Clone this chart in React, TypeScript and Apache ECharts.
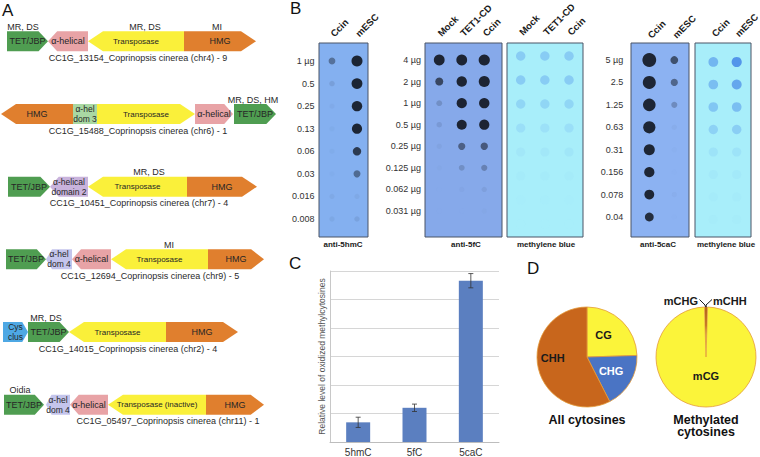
import React, { useEffect, useRef } from "react";
import * as echarts from "echarts";

const FONT = "'Liberation Sans', Arial, Helvetica, sans-serif";

// ---------------- Panel A: gene models ----------------
const geneRows = ["chr4", "chr6", "chr7", "chr9", "chr2", "chr11"];
// [row, start, end, direction (1 right, -1 left, 0 none), label, domain]
const geneDomains: [number, number, number, number, string, string][] = [
  [0, 7, 48, 1, "TET/JBP", "tet"],
  [0, 48, 88, -1, "α-helical", "ahel"],
  [0, 88, 184, -1, "Transposase", "trans"],
  [0, 184, 256, 1, "HMG", "hmg"],
  [1, 1, 73, -1, "HMG", "hmg"],
  [1, 73, 97, 0, "α-hel\ndom 3", "dom3"],
  [1, 97, 195, 1, "Transposase", "trans"],
  [1, 195, 233, 1, "α-helical", "ahel"],
  [1, 234, 276, 1, "TET/JBP", "tet"],
  [2, 8, 50, 1, "TET/JBP", "tet"],
  [2, 50, 88, -1, "α-helical\ndomain 2", "dom2"],
  [2, 88, 187, -1, "Transposase", "trans"],
  [2, 187, 257, 1, "HMG", "hmg"],
  [3, 6, 46, 1, "TET/JBP", "tet"],
  [3, 46, 72, -1, "α-hel\ndom 4", "dom4"],
  [3, 72, 111, -1, "α-helical", "ahel"],
  [3, 111, 208, -1, "Transposase", "trans"],
  [3, 208, 264, 1, "HMG", "hmg"],
  [4, 3, 28, 1, "Cys\nclus", "cys"],
  [4, 28, 69, 1, "TET/JBP", "tet"],
  [4, 69, 166, -1, "Transposase", "trans"],
  [4, 166, 238, 1, "HMG", "hmg"],
  [5, 4, 44, 1, "TET/JBP", "tet"],
  [5, 46, 70, -1, "α-hel\ndom 4", "dom4"],
  [5, 70, 108, -1, "α-helical", "ahel"],
  [5, 108, 206, -1, "Transposase (inactive)", "trans"],
  [5, 206, 264, 1, "HMG", "hmg"],
];
// [row, centre, text]
const geneNotes: [number, number, string][] = [
  [0, 23, "MR, DS"],
  [0, 145, "MR, DS"],
  [0, 217, "MI"],
  [1, 253, "MR, DS, HM"],
  [2, 149, "MR, DS"],
  [3, 169, "MI"],
  [4, 46, "MR, DS"],
  [5, 20, "Oidia"],
];
const geneCaptions: [number, number, string][] = [
  [0, 138, "CC1G_13154_Coprinopsis cinerea (chr4) - 9"],
  [1, 138, "CC1G_15488_Coprinopsis cinerea (chr6) - 1"],
  [2, 139, "CC1G_10451_Coprinopsis cinerea (chr7) - 4"],
  [3, 150, "CC1G_12694_Coprinopsis cinerea (chr9) - 5"],
  [4, 128, "CC1G_14015_Coprinopsis cinerea (chr2) - 4"],
  [5, 168, "CC1G_05497_Coprinopsis cinerea (chr11) - 1"],
];

// ---------------- Panel B: dot blots (signal per spot) ----------------
const blot1Cols = ["Ccin", "mESC"];
const blot1Rows = ["1 µg", "0.5", "0.25", "0.13", "0.06", "0.03", "0.016", "0.008"];
const blot1Ccin = [0.45, 0.12, 0.04, 0.03, 0.03, 0.02, 0.05, 0.06];
const blot1mESC = [1.5, 1.45, 1.35, 1.3, 0.85, 0.5, 0.05, 0.1];

const blot2Cols = ["Mock", "TET1-CD", "Ccin"];
const blot2Rows = ["4 µg", "2 µg", "1 µg", "0.5 µg", "0.25 µg", "0.125 µg", "0.062 µg", "0.031 µg"];
const blot2Mock = [1.45, 0.75, 0.2, 0.12, 0.05, 0.02, 0, 0];
const blot2Tet = [1.45, 1.35, 1.3, 1.25, 0.55, 0.2, 0.03, 0];
const blot2Ccin = [1.55, 1.5, 1.35, 1.3, 0.6, 0.3, 0.08, 0.02];

const blot3Mock = [0.3, 0.3, 0.22, 0.13, 0.06, 0.03, 0.015, 0.01];
const blot3Tet = [0.3, 0.3, 0.22, 0.12, 0.06, 0.03, 0.015, 0.01];
const blot3Ccin = [0.3, 0.3, 0.22, 0.13, 0.07, 0.03, 0.015, 0.01];

const blot4Cols = ["Ccin", "mESC"];
const blot4Rows = ["5 µg", "2.5", "1.25", "0.63", "0.31", "0.156", "0.078", "0.04"];
const blot4Ccin = [2.2, 2.0, 1.9, 1.8, 1.5, 1.3, 1.2, 0.95];
const blot4mESC = [0.7, 0.55, 0.28, 0.04, 0.02, 0.01, 0.03, 0.01];

const blot5Ccin = [0.5, 0.42, 0.36, 0.25, 0.1, 0.05, 0.03, 0.02];
const blot5mESC = [0.78, 0.62, 0.42, 0.28, 0.1, 0.05, 0.03, 0.02];

const blotCaptions = ["anti-5hmC", "anti-5fC", "methylene blue", "anti-5caC", "methylene blue"];

// ---------------- Panel C ----------------
const oxCats = ["5hmC", "5fC", "5caC"];
const oxValues = [0.69, 1.2, 5.66];
const oxErrors = [0.18, 0.13, 0.25];

// ---------------- Panel D ----------------
const allCytLabels = ["CG", "CHG", "CHH"];
const allCytValues = [24.5, 18, 57.5];
const methLabels = ["mCHG", "mCHH", "mCG"];
const methValues = [0.5, 0.5, 99];

// ---------------- styles / layout ----------------
const domainStyle: Record<string, { fill: string; size: number }> = {
  tet: { fill: "#4f9d51", size: 9 },
  ahel: { fill: "#e8a3a6", size: 9 },
  trans: { fill: "#faf03a", size: 8 },
  hmg: { fill: "#e07f2e", size: 9 },
  dom3: { fill: "#a9d8a3", size: 8.5 },
  dom2: { fill: "#c9b3dc", size: 8.5 },
  dom4: { fill: "#c4c5ec", size: 8.5 },
  cys: { fill: "#4ea8e4", size: 8.5 },
};

const blotCols = [blot1Cols, blot2Cols, blot2Cols, blot4Cols, blot4Cols];
const blotRows = [blot1Rows, blot2Rows, blot2Rows, blot4Rows, blot4Rows];
const blotLanes = [
  [blot1Ccin, blot1mESC],
  [blot2Mock, blot2Tet, blot2Ccin],
  [blot3Mock, blot3Tet, blot3Ccin],
  [blot4Ccin, blot4mESC],
  [blot5Ccin, blot5mESC],
];
const blotLayout = [
  { m: [319, 43, 49, 194], g: { left: 319.5, top: 49.7, width: 50, height: 180.6 }, rowMargin: 5, headY: 35, bg: "#84b0f0", mb: false, rows: true, capX: 343 },
  { m: [425, 43, 77, 194], g: { left: 428, top: 49.2, width: 67.5, height: 172.6 }, rowMargin: 7, headY: 34.5, bg: "#86a9ea", mb: false, rows: true, capX: 466 },
  { m: [507, 43, 76, 194], g: { left: 508.6, top: 44, width: 72.5, height: 192 }, rowMargin: 5, headY: 33.5, bg: "#a8eefa", mb: true, rows: false, capX: 546 },
  { m: [631, 43, 58, 194], g: { left: 636.8, top: 48.8, width: 50, height: 179.4 }, rowMargin: 13.5, headY: 36.5, bg: "#8cb2f2", mb: false, rows: true, capX: 658 },
  { m: [695, 43, 56, 194], g: { left: 701.6, top: 50.75, width: 46.8, height: 180 }, rowMargin: 5, headY: 35, bg: "#a8eefa", mb: true, rows: false, capX: 726 },
];

function mix(c1: string, c2: string, t: number) {
  const p = (c: string) => [1, 3, 5].map((i) => parseInt(c.slice(i, i + 2), 16));
  const a = p(c1);
  const b = p(c2);
  const r = a.map((v, i) => Math.round(v + (b[i] - v) * t));
  return `rgb(${r[0]},${r[1]},${r[2]})`;
}

export default function App() {
  const ref = useRef<HTMLDivElement>(null);

  useEffect(() => {
    document.body.style.margin = "0";
    if (!ref.current) return;
    const chart = echarts.init(ref.current, undefined, { renderer: "svg" });

    const grids: any[] = [];
    const xAxes: any[] = [];
    const yAxes: any[] = [];
    const series: any[] = [];
    const graphics: any[] = [];

    // ---- grid 0: gene models
    grids.push({ left: 0, top: 5, width: 280, height: 436 });
    xAxes.push({ gridIndex: 0, type: "value", min: 0, max: 280, show: false });
    yAxes.push({ gridIndex: 0, type: "category", data: geneRows, inverse: true, show: false });

    series.push({
      type: "custom",
      xAxisIndex: 0,
      yAxisIndex: 0,
      silent: true,
      data: geneDomains.map((d) => [d[0], d[1], d[2], d[3]]),
      encode: { x: [1, 2], y: 0 },
      renderItem: (params: any, api: any) => {
        const d = geneDomains[params.dataIndex];
        const st = domainStyle[d[5]];
        const a = api.coord([api.value(1), api.value(0)]);
        const b = api.coord([api.value(2), api.value(0)]);
        const x1 = a[0];
        const x2 = b[0];
        const y = a[1];
        const h = 20;
        const dir = api.value(3);
        const tip = Math.min(15, (x2 - x1) * 0.23);
        let pts: number[][];
        if (dir > 0)
          pts = [[x1, y - h / 2], [x2 - tip, y - h / 2], [x2, y], [x2 - tip, y + h / 2], [x1, y + h / 2]];
        else if (dir < 0)
          pts = [[x1, y], [x1 + tip, y - h / 2], [x2, y - h / 2], [x2, y + h / 2], [x1 + tip, y + h / 2]];
        else pts = [[x1, y - h / 2], [x2, y - h / 2], [x2, y + h / 2], [x1, y + h / 2]];
        return {
          type: "group",
          children: [
            { type: "polygon", shape: { points: pts }, style: { fill: st.fill } },
            {
              type: "text",
              x: (x1 + x2) / 2,
              y,
              style: {
                text: d[4],
                fill: "#262626",
                fontSize: st.size,
                lineHeight: st.size + 1.5,
                fontFamily: FONT,
                align: "center",
                verticalAlign: "middle",
              },
            },
          ],
        };
      },
    });

    const textSeries = (rows: [number, number, string][], dy: number, size: number) => ({
      type: "custom",
      xAxisIndex: 0,
      yAxisIndex: 0,
      silent: true,
      data: rows.map((r) => [r[1], r[0]]),
      encode: { x: 0, y: 1 },
      renderItem: (params: any, api: any) => {
        const p = api.coord([api.value(0), api.value(1)]);
        return {
          type: "text",
          x: p[0],
          y: p[1] + dy,
          style: {
            text: rows[params.dataIndex][2],
            fill: "#2a2a2a",
            fontSize: size,
            fontFamily: FONT,
            align: "center",
            verticalAlign: "middle",
          },
        };
      },
    });
    series.push(textSeries(geneNotes, -14.5, 9));
    series.push(textSeries(geneCaptions, 16.5, 9));

    // ---- grids 1-5: dot blots
    blotLayout.forEach((L, bi) => {
      const gi = bi + 1;
      grids.push({ ...L.g });
      xAxes.push({
        gridIndex: gi,
        type: "category",
        data: blotCols[bi],
        show: false,
      });
      yAxes.push({
        gridIndex: gi,
        type: "category",
        inverse: true,
        data: blotRows[bi],
        axisLine: { show: false },
        axisTick: { show: false },
        splitLine: { show: false },
        axisLabel: {
          show: L.rows,
          interval: 0,
          margin: L.rowMargin,
          fontSize: 9,
          color: "#333",
          fontFamily: FONT,
        },
      });
      const data: any[] = [];
      blotLanes[bi].forEach((lane, ci) => {
        lane.forEach((s, ri) => {
          const t = Math.min(1, s);
          const color = L.mb ? mix(L.bg, "#1f5fe0", t) : mix(L.bg, "#030305", t);
          const size = L.mb ? 9 + 1.5 * t : 5 + 4 * s;
          data.push({ value: [ci, ri, s], symbolSize: size, itemStyle: { color } });
        });
      });
      series.push({
        type: "scatter",
        xAxisIndex: gi,
        yAxisIndex: gi,
        silent: true,
        symbol: "circle",
        data,
      });
      // lane headers (rotated 45 deg), placed at each lane's x through the axis
      const cols = blotCols[bi];
      const headGap = L.g.top - L.headY;
      series.push({
        type: "custom",
        xAxisIndex: gi,
        yAxisIndex: gi,
        silent: true,
        data: cols.map((c, ci) => [ci, 0]),
        renderItem: (params: any, api: any) => {
          const p = api.coord([api.value(0), 0]);
          const top = params.coordSys.y;
          return {
            type: "group",
            x: p[0],
            y: top - headGap,
            rotation: Math.PI / 4,
            children: [
              {
                type: "text",
                x: 0,
                y: 0,
                style: {
                  text: cols[params.dataIndex],
                  fontSize: 9.5,
                  fontWeight: "bold",
                  fill: "#1a1a1a",
                  fontFamily: FONT,
                  align: "left",
                  verticalAlign: "middle",
                },
              },
            ],
          };
        },
      });
      graphics.push({
        type: "rect",
        shape: { x: L.m[0], y: L.m[1], width: L.m[2], height: L.m[3] },
        style: { fill: L.bg, stroke: "#4a5566", lineWidth: 1 },
        z: 0,
      });
      graphics.push({
        type: "text",
        x: L.capX,
        y: 244,
        style: {
          text: blotCaptions[bi],
          fontSize: 8,
          fontWeight: "bold",
          fill: "#1a1a1a",
          fontFamily: FONT,
          align: "center",
          verticalAlign: "middle",
        },
      });
    });

    // ---- grid 6: bar chart
    grids.push({ left: 330, top: 271, width: 169, height: 171 });
    xAxes.push({
      gridIndex: 6,
      type: "category",
      data: oxCats,
      axisLine: { lineStyle: { color: "#bdbdbd" } },
      axisTick: { show: false },
      axisLabel: { fontSize: 10, color: "#333", margin: 5, fontFamily: FONT },
    });
    yAxes.push({
      gridIndex: 6,
      type: "value",
      min: 0,
      max: 6,
      interval: 1,
      name: "Relative level of oxidized methylcytosines",
      nameLocation: "middle",
      nameGap: 4,
      nameTextStyle: { fontSize: 8.5, color: "#555", fontFamily: FONT },
      axisLine: { show: true, lineStyle: { color: "#c8c8c8" } },
      axisTick: { show: false },
      axisLabel: { show: false },
      splitLine: { lineStyle: { color: "#d6d6d6" } },
    });
    series.push({
      type: "bar",
      xAxisIndex: 6,
      yAxisIndex: 6,
      silent: true,
      data: oxValues,
      barWidth: 24,
      itemStyle: { color: "#5b7fc0" },
    });
    series.push({
      type: "custom",
      xAxisIndex: 6,
      yAxisIndex: 6,
      silent: true,
      z: 5,
      data: oxCats.map((c, i) => [i, oxValues[i] - oxErrors[i], oxValues[i] + oxErrors[i]]),
      renderItem: (params: any, api: any) => {
        const lo = api.coord([api.value(0), api.value(1)]);
        const hi = api.coord([api.value(0), api.value(2)]);
        const w = 2.5;
        const st = { stroke: "#333", lineWidth: 0.8 };
        return {
          type: "group",
          children: [
            { type: "line", shape: { x1: lo[0], y1: lo[1], x2: hi[0], y2: hi[1] }, style: st },
            { type: "line", shape: { x1: lo[0] - w, y1: lo[1], x2: lo[0] + w, y2: lo[1] }, style: st },
            { type: "line", shape: { x1: hi[0] - w, y1: hi[1], x2: hi[0] + w, y2: hi[1] }, style: st },
          ],
        };
      },
    });

    // ---- pies
    const pie1Colors = ["#fbf43a", "#4a74c4", "#c8661c"];
    const pie2Colors = ["#b5651d", "#b5651d", "#fbf43a"];
    series.push({
      type: "pie",
      center: [587, 357],
      radius: 50,
      startAngle: 90,
      clockwise: true,
      avoidLabelOverlap: false,
      silent: true,
      itemStyle: { borderColor: "#e39a3a", borderWidth: 0.8 },
      label: { show: true, position: "inner", formatter: "{b}", fontSize: 11, fontWeight: "bold", fontFamily: FONT },
      labelLine: { show: false },
      data: allCytLabels.map((n, i) => ({
        name: n,
        value: allCytValues[i],
        itemStyle: { color: pie1Colors[i] },
        label: { color: i === 1 ? "#ffffff" : "#1a1a1a" },
      })),
      labelLayout: (p: any) => (p.dataIndex === 2 ? { dx: -7, dy: -6 } : p.dataIndex === 0 ? { dx: -3, dy: -2 } : {}),
    });
    series.push({
      type: "pie",
      center: [706, 357],
      radius: 50,
      startAngle: 91.8,
      clockwise: true,
      avoidLabelOverlap: false,
      silent: true,
      itemStyle: { borderColor: "#e39a3a", borderWidth: 0.6 },
      label: { show: true, formatter: "{b}", fontSize: 11, fontWeight: "bold", color: "#1a1a1a", fontFamily: FONT },
      labelLine: { show: true, lineStyle: { color: "#1a1a1a", width: 1 } },
      data: methLabels.map((n, i) => ({
        name: n,
        value: methValues[i],
        itemStyle: { color: pie2Colors[i], borderWidth: i === 2 ? 0.8 : 0 },
        label: { position: i === 2 ? "inner" : "outside" },
        labelLine: { show: i !== 2 },
      })),
      labelLayout: (p: any) => {
        if (p.dataIndex === 0)
          return { x: 698, y: 300.5, align: "right", verticalAlign: "middle", labelLinePoints: [[705.6, 307.5], [705, 305], [699.5, 299.5]] };
        if (p.dataIndex === 1)
          return { x: 713, y: 300.5, align: "left", verticalAlign: "middle", labelLinePoints: [[706.4, 307.5], [706, 305], [712, 299.5]] };
        return { dy: -9 };
      },
    });

    // ---- texts
    const letters: [string, number, number][] = [
      ["A", 2, 2],
      ["B", 290, 0],
      ["C", 289, 255],
      ["D", 527, 260],
    ];
    letters.forEach(([t, x, y]) =>
      graphics.push({ type: "text", x, y, style: { text: t, fontSize: 17, fill: "#111", fontFamily: FONT } })
    );
    graphics.push({
      type: "text",
      x: 587,
      y: 420,
      style: { text: "All cytosines", fontSize: 12.5, fontWeight: "bold", fill: "#111", fontFamily: FONT, align: "center", verticalAlign: "middle" },
    });
    graphics.push({
      type: "text",
      x: 706,
      y: 426,
      style: { text: "Methylated\ncytosines", fontSize: 12.5, lineHeight: 12.5, fontWeight: "bold", fill: "#111", fontFamily: FONT, align: "center", verticalAlign: "middle" },
    });

    chart.setOption({
      animation: false,
      backgroundColor: "#ffffff",
      textStyle: { fontFamily: FONT },
      grid: grids,
      xAxis: xAxes,
      yAxis: yAxes,
      series,
      graphic: graphics,
    });

    return () => chart.dispose();
  }, []);

  return <div ref={ref} style={{ width: 760, height: 457 }} />;
}
